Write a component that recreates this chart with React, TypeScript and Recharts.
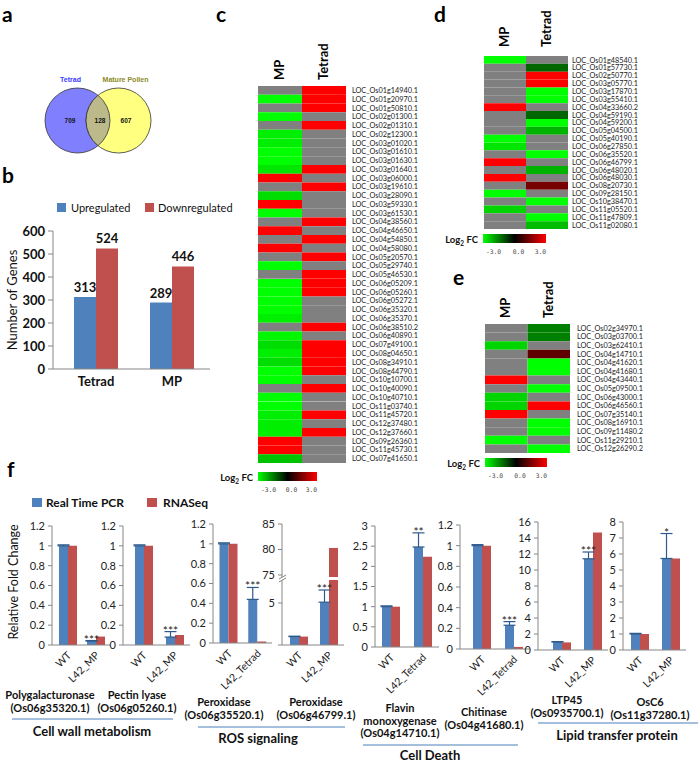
import React from 'react';
import { BarChart, Bar, XAxis, YAxis, Cell, LabelList, ErrorBar, ScatterChart, Scatter } from 'recharts';

const FONT = "Lato, 'Noto Sans', sans-serif";
const BLUE = '#4f81bd';
const RED = '#c0504d';
const AXIS = '#868686';
const ERR = '#2f5a8c';

// panel a
const vennSets = ['Tetrad', 'Mature Pollen'];
const vennOnly = [709, 607];
const vennShared = 128;

// panel b
const bSeries = ['Upregulated', 'Downregulated'];
const bGroups = ['Tetrad', 'MP'];
const bUp = [313, 289];
const bDown = [524, 446];
const bTicks = [0, 100, 200, 300, 400, 500, 600];

// heatmaps (log2 FC, null = not significant)
const heatCols = ['MP', 'Tetrad'];
const scaleTicks = ['-3.0', '0.0', '3.0'];

const cGenes = [
  'LOC_Os01g14940.1', 'LOC_Os01g20970.1', 'LOC_Os01g50810.1', 'LOC_Os02g01300.1', 'LOC_Os02g01310.1',
  'LOC_Os02g12300.1', 'LOC_Os03g01020.1', 'LOC_Os03g01610.1', 'LOC_Os03g01630.1', 'LOC_Os03g01640.1',
  'LOC_Os03g06000.1', 'LOC_Os03g19610.1', 'LOC_Os03g28090.1', 'LOC_Os03g59330.1', 'LOC_Os03g61530.1',
  'LOC_Os04g38560.1', 'LOC_Os04g46650.1', 'LOC_Os04g54850.1', 'LOC_Os04g58080.1', 'LOC_Os05g20570.1',
  'LOC_Os05g29740.1', 'LOC_Os05g46530.1', 'LOC_Os06g05209.1', 'LOC_Os06g05260.1', 'LOC_Os06g05272.1',
  'LOC_Os06g35320.1', 'LOC_Os06g35370.1', 'LOC_Os06g38510.2', 'LOC_Os06g40890.1', 'LOC_Os07g49100.1',
  'LOC_Os08g04650.1', 'LOC_Os08g34910.1', 'LOC_Os08g44790.1', 'LOC_Os10g10700.1', 'LOC_Os10g40090.1',
  'LOC_Os10g40710.1', 'LOC_Os11g03740.1', 'LOC_Os11g45720.1', 'LOC_Os12g37480.1', 'LOC_Os12g37660.1',
  'LOC_Os09g26360.1', 'LOC_Os11g45730.1', 'LOC_Os07g41650.1',
];
const cMP = [
  null, -3, null, -3, null,
  -2.8, -2.8, -3, -3, -2.7,
  3, null, -2.6, 3, -3,
  null, 3, null, 3, null,
  -3, null, -3, -3, -3,
  -3, -2.8, null, -2.9, -2.6,
  -2.8, -2.6, -3, -3, null,
  -3, -3, -2.8, -2.8, -2.8,
  3, 3, -2.3,
];
const cTetrad = [
  3, 3, 3, null, 3,
  null, null, null, null, 3,
  null, 3, null, null, null,
  3, null, 3, null, 3,
  null, 3, 3, 3, null,
  null, null, 3, null, 3,
  3, 3, 3, null, 3,
  null, null, 3, null, 3,
  null, null, null,
];

const dGenes = [
  'LOC_Os01g48540.1', 'LOC_Os01g57730.1', 'LOC_Os02g50770.1', 'LOC_Os03g05770.1', 'LOC_Os03g17870.1',
  'LOC_Os03g55410.1', 'LOC_Os04g33660.2', 'LOC_Os04g59190.1', 'LOC_Os04g59200.1', 'LOC_Os05g04500.1',
  'LOC_Os05g40190.1', 'LOC_Os06g27850.1', 'LOC_Os06g35520.1', 'LOC_Os06g46799.1', 'LOC_Os06g48020.1',
  'LOC_Os06g48030.1', 'LOC_Os08g20730.1', 'LOC_Os09g28150.1', 'LOC_Os10g38470.1', 'LOC_Os11g05520.1',
  'LOC_Os11g47809.1', 'LOC_Os11g02080.1',
];
const dMP = [-3, null, null, null, null, null, 3, null, null, null, -3, -2.7, null, 3, null, 3, null, -3, null, -2.5, null, null];
const dTetrad = [null, -1.2, 3, 3, -3, -3, null, -1.2, -3, -2.1, null, null, -3, null, -2.1, null, 1.4, null, -3, null, -3, -2.2];

const eGenes = [
  'LOC_Os02g34970.1', 'LOC_Os03g03700.1', 'LOC_Os03g62410.1', 'LOC_Os04g14710.1', 'LOC_Os04g41620.1',
  'LOC_Os04g41680.1', 'LOC_Os04g43440.1', 'LOC_Os05g09500.1', 'LOC_Os06g43000.1', 'LOC_Os06g46560.1',
  'LOC_Os07g35140.1', 'LOC_Os08g16910.1', 'LOC_Os09g11480.2', 'LOC_Os11g29210.1', 'LOC_Os12g26290.2',
];
const eMP = [null, null, -2.5, null, null, null, 3, null, -2.5, -2.5, 3, null, null, -3, null];
const eTetrad = [-1.5, -1.5, null, 1.1, -3, -3, null, -3, null, 3, null, -3, -3, null, -3];

// panel f
const fSeries = ['Real Time PCR', 'RNASeq'];
const fControl = 'WT';
const fMutant = ['L42_MP', 'L42_MP', 'L42_Tetrad', 'L42_MP', 'L42_Tetrad', 'L42_Tetrad', 'L42_MP', 'L42_MP'];
const fGenes = [['Polygalacturonase'], ['Pectin lyase'], ['Peroxidase'], ['Peroxidase'], ['Flavin', 'monoxygenase'], ['Chitinase'], ['LTP45'], ['OsC6']];
const fLoci = ['(Os06g35320.1)', '(Os06g05260.1)', '(Os06g35520.1)', '(Os06g46799.1)', '(Os04g14710.1)', '(Os04g41680.1)', '(Os0935700.1)', '(Os11g37280.1)'];
const qpcrWT = [1, 1, 1, 1, 1, 1, 1, 1];
const qpcrWTErr = [0.01, 0.01, 0.01, 0.05, 0.02, 0.01, 0.05, 0.04];
const qpcrMut = [0.04, 0.08, 0.44, 5.1, 2.48, 0.23, 11.4, 5.72];
const qpcrMutErr = [0.005, 0.055, 0.12, 1.45, 0.35, 0.035, 0.85, 1.56];
const rnaWT = [1, 1, 1, 1, 1, 1, 0.95, 1];
const rnaMut = [0.085, 0.1, 0.015, 80.3, 2.24, 0.02, 14.7, 5.72];
const fSig = ['***', '***', '***', '***', '**', '***', '***', '*'];
const fGroups = ['Cell wall metabolism', 'ROS signaling', 'Cell Death', 'Lipid transfer protein'];
const fTicks = [
  [0, 0.2, 0.4, 0.6, 0.8, 1, 1.2],
  [0, 0.2, 0.4, 0.6, 0.8, 1, 1.2],
  [0, 0.2, 0.4, 0.6, 0.8, 1, 1.2],
  [0, 5],
  [0, 0.5, 1, 1.5, 2, 2.5, 3],
  [0, 0.2, 0.4, 0.6, 0.8, 1, 1.2],
  [0, 2, 4, 6, 8, 10, 12, 14, 16],
  [0, 1, 2, 3, 4, 5, 6, 7, 8],
];
const fBreakTicks = [75, 80, 85];

// layout of the small charts in f (page px)
const fFrames = [
  { axisX: 52, right: 110, padL: 2, top: 526, bottom: 645 },
  { axisX: 123, right: 190, padL: 5, top: 526, bottom: 645 },
  { axisX: 213, right: 272, padL: 1.5, top: 524, bottom: 643 },
  { axisX: 282, right: 344, padL: 2, top: 580, bottom: 645, lowMax: 7.74, upTop: 524, upBottom: 577, upMin: 74.6 },
  { axisX: 375, right: 439, padL: 0, top: 526, bottom: 647 },
  { axisX: 460, right: 530, padL: 6, top: 525, bottom: 649 },
  { axisX: 538, right: 608, padL: 8, top: 522, bottom: 650 },
  { axisX: 623, right: 686, padL: 1, top: 522, bottom: 650 },
];
const genePos = [
  { x: 50, y: 695 }, { x: 137, y: 695 }, { x: 224, y: 702 }, { x: 316, y: 702 },
  { x: 400, y: 708 }, { x: 484, y: 712 }, { x: 567, y: 700 }, { x: 650, y: 702 },
];
const groupPos = [
  { x1: 12, x2: 173, y: 719, tx: 92, ty: 731 },
  { x1: 198, x2: 345, y: 727, tx: 258, ty: 738 },
  { x1: 363, x2: 518, y: 745, tx: 430, ty: 755 },
  { x1: 538, x2: 698, y: 723, tx: 617, ty: 735 },
];

function heatColor(v: number | null) {
  if (v === null) return '#808080';
  const k = Math.round(255 * Math.min(1, Math.abs(v) / 3));
  return v < 0 ? `rgb(0,${k},0)` : `rgb(${k},0,0)`;
}

const VENN_R = 32.5;
const VENN_HALF = 20.5;

function VennShape(props: any) {
  const { cx, cy, payload } = props;
  if (payload.kind === 'set') {
    const left = payload.idx === 0;
    return (
      <g>
        <circle cx={cx} cy={cy} r={VENN_R} fill={left ? '#8080ff' : '#ffff80'} stroke="#333" strokeWidth={0.8} />
        <text x={cx + (left ? -7 : 7)} y={cy - VENN_R - 6} textAnchor="middle" fontSize={7} fontWeight={700}
          fontFamily="'Liberation Sans', Arial" fill={left ? '#3a3aff' : '#8c8a1e'}>{payload.name}</text>
        <text x={cx + (left ? -7.5 : 7.5)} y={cy + 2.5} textAnchor="middle" fontSize={6.5} fontWeight={700}
          fontFamily="'Liberation Sans', Arial" fill="#111">{payload.count}</text>
      </g>
    );
  }
  const h = Math.sqrt(VENN_R * VENN_R - VENN_HALF * VENN_HALF);
  const d = `M${cx},${cy - h} A${VENN_R},${VENN_R} 0 0 1 ${cx},${cy + h} A${VENN_R},${VENN_R} 0 0 1 ${cx},${cy - h} Z`;
  return (
    <g>
      <path d={d} fill="#bcb98a" stroke="#333" strokeWidth={0.8} />
      <text x={cx + 2} y={cy + 2.5} textAnchor="middle" fontSize={6.5} fontWeight={700}
        fontFamily="'Liberation Sans', Arial" fill="#111">{payload.count}</text>
    </g>
  );
}

function Venn() {
  const data = [
    { x: 0, y: 0, kind: 'set', idx: 0, name: vennSets[0], count: vennOnly[0] },
    { x: 1, y: 0, kind: 'set', idx: 1, name: vennSets[1], count: vennOnly[1] },
    { x: 0.5, y: 0, kind: 'both', idx: 2, name: '', count: vennShared },
  ];
  return (
    <div style={{ position: 'absolute', left: 0, top: 60 }}>
      <ScatterChart width={200} height={121} margin={{ top: 20, right: 81.5, bottom: 20, left: 77.5 }}>
        <XAxis type="number" dataKey="x" domain={[0, 1]} hide />
        <YAxis type="number" dataKey="y" domain={[-1, 1]} hide />
        <Scatter data={data} isAnimationActive={false} shape={(p: any) => <VennShape {...p} />} />
      </ScatterChart>
    </div>
  );
}

function PanelB() {
  const data = bGroups.map((g, i) => ({ group: g, up: bUp[i], down: bDown[i] }));
  const txt = { fontSize: 13, fontWeight: 700, fill: '#111' };
  return (
    <div style={{ position: 'absolute', left: 0, top: 215 }}>
      <BarChart width={215} height={175} data={data} margin={{ top: 16, right: 5, left: 0, bottom: 0 }} barGap={0} barSize={22}>
        <XAxis dataKey="group" height={21} padding={{ left: 5, right: 0 }} axisLine={{ stroke: AXIS }} tickLine={false} tick={txt} interval={0} />
        <YAxis width={53} domain={[0, 600]} ticks={bTicks} interval={0} tickSize={5} tickMargin={3}
          axisLine={{ stroke: AXIS }} tickLine={{ stroke: AXIS }} tick={txt} />
        <Bar dataKey="up" fill={BLUE} isAnimationActive={false}>
          <LabelList dataKey="up" position="top" {...txt} />
        </Bar>
        <Bar dataKey="down" fill={RED} isAnimationActive={false}>
          <LabelList dataKey="down" position="top" {...txt} />
        </Bar>
      </BarChart>
    </div>
  );
}

function HeaderTick({ x, y, payload, gap }: any) {
  const label = heatCols[Math.floor(payload.value)];
  return (
    <text transform={`translate(${x + 4},${y - gap}) rotate(-90)`} fontSize={13} fontWeight={700} fill="#000">{label}</text>
  );
}

function Heatmap({ genes, mp, tetrad, x, y, colW, rowH, gap, labelGap }: any) {
  const headerH = 52;
  const labelW = 90;
  const data = genes.map((g: string) => ({ gene: g, mpCell: 1, tetradCell: 1 }));
  return (
    <div style={{ position: 'absolute', left: x, top: y - headerH }}>
      <BarChart layout="vertical" width={colW * 2 + labelW} height={headerH + rowH * genes.length} data={data}
        margin={{ top: 0, right: 0, bottom: 0, left: 0 }} barCategoryGap={0} barGap={0} barSize={rowH - 0.01}>
        <XAxis type="number" orientation="top" domain={[0, 2]} ticks={[0.5, 1.5]} height={headerH}
          axisLine={false} tickLine={false} tickSize={0} tickMargin={0} interval={0}
          tick={(p: any) => <HeaderTick {...p} gap={gap} />} />
        <YAxis type="category" dataKey="gene" orientation="right" width={labelW} axisLine={false} tickLine={false}
          tickSize={0} tickMargin={labelGap} interval={0} tick={{ fontSize: 7.3, fill: '#222' }} />
        <Bar dataKey="mpCell" stackId="h" isAnimationActive={false}>
          {mp.map((v: number | null, i: number) => <Cell key={i} fill={heatColor(v)} />)}
        </Bar>
        <Bar dataKey="tetradCell" stackId="h" isAnimationActive={false}>
          {tetrad.map((v: number | null, i: number) => <Cell key={i} fill={heatColor(v)} />)}
        </Bar>
      </BarChart>
    </div>
  );
}

function RotTick({ x, y, payload }: any) {
  const ax = x + 4;
  const ay = y + 3;
  return (
    <text x={ax} y={ay} transform={`rotate(-45 ${ax} ${ay})`} textAnchor="end" fontSize={10.5} fill="#222">{payload.value}</text>
  );
}

function Stars(props: any) {
  const vb = props.viewBox || props;
  const { x, y, width } = vb;
  if (!props.value) return null;
  const top = y - props.err * props.ppu;
  return <text x={x + width / 2} y={top + 3} textAnchor="middle" fontSize={12} fill="#222">{props.value}</text>;
}

function FSegment({ data, i, axisX, right, padL, top, bottom, domain, ticks, upper, hideZero }: any) {
  const YW = 40;
  const MT = 14;
  const MB = upper ? 8 : 0;
  const XH = upper ? 0 : 62;
  const plotH = bottom - top;
  const ppu = plotH / (domain[1] - domain[0]);
  return (
    <div style={{ position: 'absolute', left: axisX - YW, top: top - MT }}>
      <BarChart width={YW + right - axisX} height={MT + plotH + XH + MB} data={data}
        margin={{ top: MT, right: 0, bottom: MB, left: 0 }} barGap={0} barSize={9}>
        <XAxis dataKey="cat" hide={upper} height={XH} padding={{ left: padL, right: 0 }} axisLine={{ stroke: AXIS }}
          tickLine={false} interval={0} tick={(p: any) => <RotTick {...p} />} />
        <YAxis type="number" width={YW} domain={domain} ticks={ticks} allowDataOverflow interval={0} tickSize={4} tickMargin={3}
          axisLine={{ stroke: AXIS }} tickLine={{ stroke: AXIS }} tick={{ fontSize: 11, fill: '#222' }}
          tickFormatter={(v: number) => (hideZero && v === 0 ? '' : String(v))} />
        <Bar dataKey="qpcr" fill={BLUE} fillOpacity={upper ? 0 : 1} isAnimationActive={false}>
          {!upper && <ErrorBar dataKey="err" width={6} stroke={ERR} strokeWidth={1.2} />}
          {!upper && <LabelList dataKey="sig" content={(p: any) => <Stars {...p} err={qpcrMutErr[i]} ppu={ppu} />} />}
        </Bar>
        <Bar dataKey="rna" fill={RED} isAnimationActive={false} />
      </BarChart>
    </div>
  );
}

function FChart({ i }: { i: number }) {
  const f: any = fFrames[i];
  const data = [
    { cat: fControl, qpcr: qpcrWT[i], err: [0, qpcrWTErr[i]], rna: rnaWT[i], sig: '' },
    { cat: fMutant[i], qpcr: qpcrMut[i], err: [0, qpcrMutErr[i]], rna: rnaMut[i], sig: fSig[i] },
  ];
  const t = fTicks[i];
  const common = { data, i, axisX: f.axisX, right: f.right, padL: f.padL };
  return (
    <>
      {f.upTop !== undefined && (
        <FSegment {...common} top={f.upTop} bottom={f.upBottom} domain={[f.upMin, fBreakTicks[fBreakTicks.length - 1]]}
          ticks={fBreakTicks} upper />
      )}
      <FSegment {...common} top={f.top} bottom={f.bottom} domain={[t[0], f.lowMax ?? t[t.length - 1]]} ticks={t}
        hideZero={f.lowMax !== undefined} />
    </>
  );
}

function ColorScale({ x, y, w, id }: any) {
  return (
    <g>
      <defs>
        <linearGradient id={id} x1="0" x2="1" y1="0" y2="0">
          <stop offset="0%" stopColor="#00ff00" />
          <stop offset="50%" stopColor="#000000" />
          <stop offset="100%" stopColor="#ff0000" />
        </linearGradient>
      </defs>
      <text x={x - 5} y={y + 9} textAnchor="end" fontSize={9.5} fontWeight={700} fill="#111">
        Log<tspan fontSize={6.5} dy={2.5}>2</tspan><tspan dy={-2.5}> FC</tspan>
      </text>
      <rect x={x} y={y} width={w} height={9} fill={`url(#${id})`} />
      <g fontFamily="'DejaVu Sans Mono', monospace" fontSize={6.3} fill="#444">
        <text x={x + 3} y={y + 20}>{scaleTicks[0]}</text>
        <text x={x + w / 2 + 4} y={y + 20} textAnchor="middle">{scaleTicks[1]}</text>
        <text x={x + w} y={y + 20} textAnchor="end">{scaleTicks[2]}</text>
      </g>
    </g>
  );
}

function Overlay() {
  return (
    <svg width={700} height={761} style={{ position: 'absolute', left: 0, top: 0 }} fontFamily={FONT}>
      <g fontSize={21} fontWeight={700} fill="#000">
        <text x={2} y={22}>a</text>
        <text x={2} y={183}>b</text>
        <text x={216} y={22}>c</text>
        <text x={434} y={22}>d</text>
        <text x={453} y={285}>e</text>
        <text x={7} y={477}>f</text>
      </g>

      <rect x={57} y={203} width={9} height={9} fill={BLUE} />
      <text x={71} y={212} fontSize={11} fill="#111">{bSeries[0]}</text>
      <rect x={145} y={203} width={9} height={9} fill={RED} />
      <text x={158} y={212} fontSize={11} fill="#111">{bSeries[1]}</text>
      <text transform="translate(17,300) rotate(-90)" textAnchor="middle" fontSize={13} fill="#111">Number of Genes</text>

      <ColorScale x={258} y={472} w={59} id="gc" />
      <ColorScale x={483} y={234} w={63} id="gd" />
      <ColorScale x={485} y={458} w={62} id="ge" />

      <rect x={32} y={498} width={10} height={9} fill={BLUE} />
      <text x={46} y={507} fontSize={12} fontWeight={700} fill="#111">{fSeries[0]}</text>
      <rect x={147} y={498} width={10} height={9} fill={RED} />
      <text x={163} y={507} fontSize={12} fontWeight={700} fill="#111">{fSeries[1]}</text>
      <text transform="translate(18,582) rotate(-90)" textAnchor="middle" fontSize={12.5} fill="#111">Relative Fold Change</text>

      <g stroke={AXIS} strokeWidth={1}>
        <line x1={279} y1={579} x2={286} y2={575} />
        <line x1={279} y1={582} x2={286} y2={578} />
      </g>

      {fGenes.map((lines, i) => {
        const p = genePos[i];
        return [...lines, fLoci[i]].map((s, k) => (
          <text key={`${i}-${k}`} x={p.x} y={p.y + k * 12.5 + 4} textAnchor="middle" fontSize={11} fontWeight={700} fill="#111">{s}</text>
        ));
      })}
      {fGroups.map((g, i) => {
        const p = groupPos[i];
        return (
          <g key={g}>
            <line x1={p.x1} x2={p.x2} y1={p.y} y2={p.y} stroke="#4a7ebb" strokeWidth={1} />
            <text x={p.tx} y={p.ty + 4.5} textAnchor="middle" fontSize={13} fontWeight={700} fill="#111">{g}</text>
          </g>
        );
      })}
    </svg>
  );
}

export default function App() {
  return (
    <div style={{ position: 'absolute', left: 0, top: 0, width: 700, height: 761, background: '#fff', overflow: 'hidden', fontFamily: FONT }}>
      <Venn />
      <PanelB />
      <Heatmap genes={cGenes} mp={cMP} tetrad={cTetrad} x={258} y={86} colW={44} rowH={377 / 43} gap={6} labelGap={6} />
      <Heatmap genes={dGenes} mp={dMP} tetrad={dTetrad} x={484} y={56} colW={42} rowH={173 / 22} gap={9} labelGap={4} />
      <Heatmap genes={eGenes} mp={eMP} tetrad={eTetrad} x={485} y={324} colW={42.5} rowH={129 / 15} gap={6} labelGap={7} />
      {fFrames.map((_, i) => <FChart key={i} i={i} />)}
      <Overlay />
    </div>
  );
}
